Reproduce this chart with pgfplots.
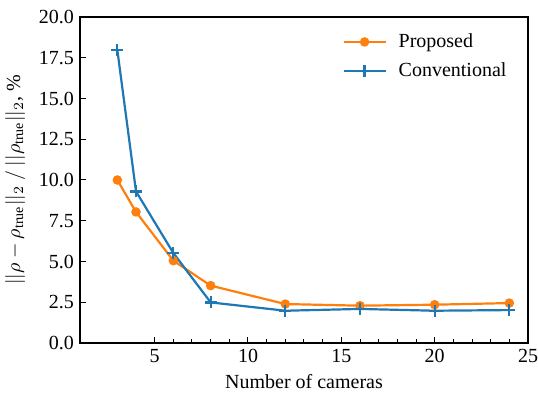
\documentclass[border=0pt]{standalone}
\usepackage{pgfplots}
\pgfplotsset{compat=1.18}
\usepackage{fontspec}
\setmainfont{Liberation Serif}
\definecolor{tabblue}{HTML}{1F77B4}
\definecolor{taborange}{HTML}{FF7F0E}
\begin{document}
\fontsize{10bp}{12bp}\selectfont
\begin{tikzpicture}
\begin{axis}[
  scale only axis, width=224bp, height=163bp,
  xmin=1, xmax=25, ymin=0, ymax=20,
  xtick={5,10,15,20,25}, minor x tick num=4,
  ytick={0,2.5,5,7.5,10,12.5,15,17.5,20},
  /pgf/number format/assume math mode=true,
  xticklabel={\rmfamily\pgfmathprintnumber{\tick}},
  yticklabel={\rmfamily\pgfmathprintnumber[fixed,fixed zerofill,precision=1]{\tick}},
  tick align=inside, tick pos=left,
  major tick length=3bp, minor tick length=2bp,
  tick style={black, line width=0.5bp},
  axis line style={line width=0.6bp},
  every axis label/.append style={font=\fontsize{10bp}{12bp}\selectfont},
  ticklabel style={font=\fontsize{10bp}{12bp}\selectfont},
  xticklabel style={yshift=0.5bp},
  yticklabel style={xshift=0.5bp},
  xlabel={Number of cameras},
  ylabel={$||\rho-\rho_{\mathrm{true}}||_2\ /\ ||\rho_{\mathrm{true}}||_2$, \%},
  xlabel style={yshift=1bp},
  ylabel style={yshift=0bp},
  legend style={draw=none, fill=none, at={(0.975,0.975)}, anchor=north east, font=\fontsize{10bp}{12bp}\selectfont, row sep=2bp,
    /tikz/every odd column/.append style={column sep=4bp}},
  legend cell align=left,
  legend image code/.code={\draw[mark repeat=2,mark phase=2] plot coordinates {(0bp,0bp)(10.5bp,0bp)(21bp,0bp)};},
]
\addplot[color=taborange, line width=1.1bp, mark=*, mark size=1.8bp, mark options={solid}] coordinates {
  (3,10.0) (4,8.04) (6,5.05) (8,3.52) (12,2.39) (16,2.29) (20,2.35) (24,2.45)
};
\addlegendentry{Proposed}
\addplot[color=tabblue, line width=1.1bp, mark=+, mark size=3bp, mark options={solid, line width=1.1bp}] coordinates {
  (3,17.98) (4,9.3) (6,5.52) (8,2.49) (12,1.98) (16,2.09) (20,1.98) (24,2.02)
};
\addlegendentry{Conventional}
\end{axis}
\pgfresetboundingbox
\path[use as bounding box] ([xshift=-40bp,yshift=-27.5bp]current axis.south west) rectangle ([xshift=5bp,yshift=8.5bp]current axis.north east);
\end{tikzpicture}
\end{document}
